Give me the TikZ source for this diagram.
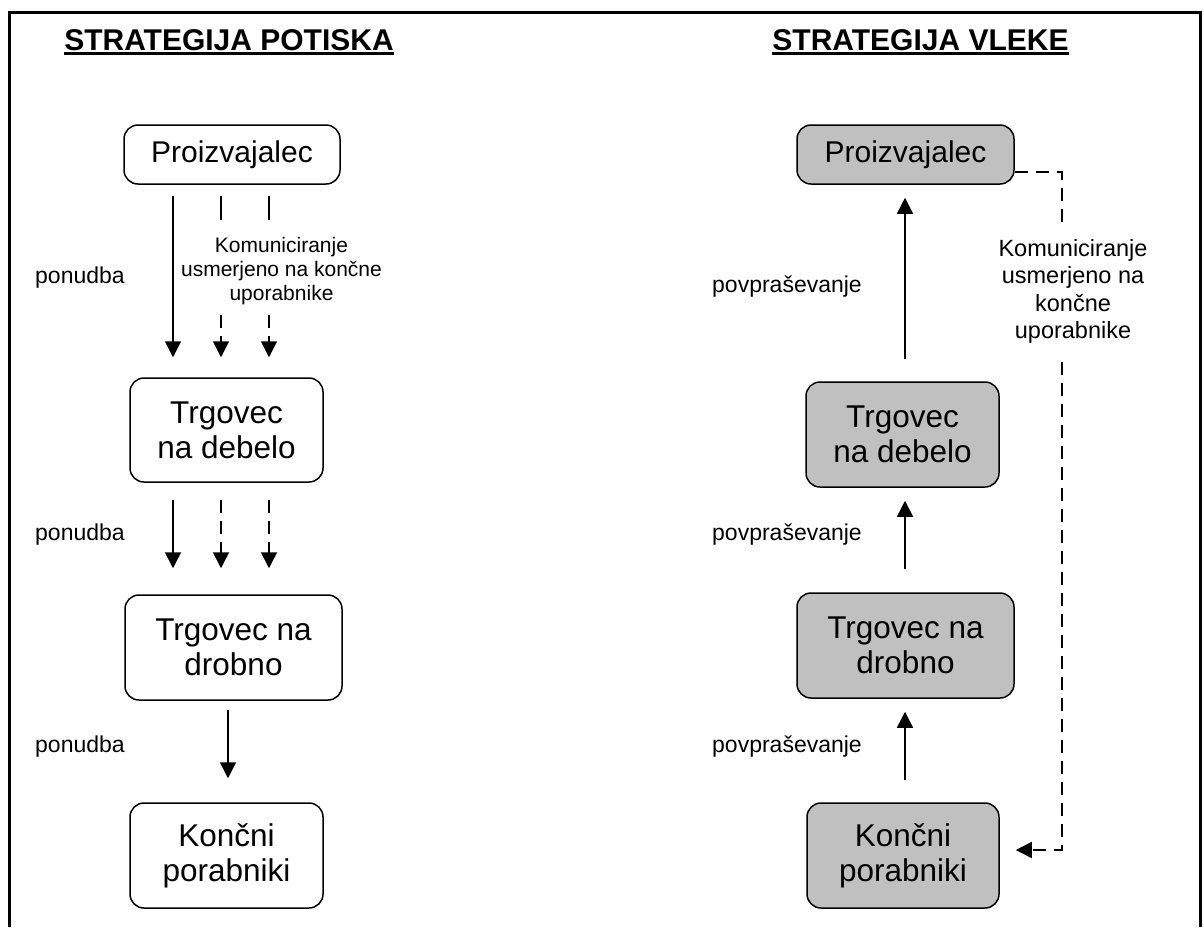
\documentclass[tikz,border=0pt]{standalone}
\usepackage{fontspec}
\setmainfont{Liberation Sans}
\usetikzlibrary{arrows.meta}
\definecolor{boxgray}{RGB}{192,192,192}
\begin{document}
\begin{tikzpicture}[x=1pt,y=-1pt,
  box/.style={draw, line width=1.5pt, rounded corners=14pt, align=center, inner sep=0pt, font=\fontsize{31.5}{35}\selectfont},
  gbox/.style={box, fill=boxgray},
  lbl/.style={anchor=west, inner sep=0pt, font=\fontsize{23}{27}\selectfont},
  arr/.style={line width=1.5pt, -{Triangle[width=16pt,length=16pt]}},
  dsh/.style={line width=1.5pt, dash pattern=on 13pt off 8pt},
  ttl/.style={inner sep=0pt, anchor=base, font=\bfseries\fontsize{30}{36}\selectfont}]

\useasboundingbox (0,0) rectangle (1204,927);
\draw[line width=3pt] (9,927) -- (9,12) -- (1200,12) -- (1200,927);

% titles
\node[ttl] (t1) at (229,50) {STRATEGIJA POTISKA};
\draw[line width=3pt] ([yshift=-3.5pt]t1.base west) -- ([yshift=-3.5pt]t1.base east);
\node[ttl] (t2) at (920.5,50) {STRATEGIJA VLEKE};
\draw[line width=3pt] ([yshift=-3.5pt]t2.base west) -- ([yshift=-3.5pt]t2.base east);

% left column boxes
\node[box, minimum width=216pt, minimum height=59pt, font=\fontsize{30}{35}\selectfont] (LP) at (232,154.5) {Proizvajalec};
\node[box, minimum width=193pt, minimum height=104pt] (LW) at (226.5,430) {Trgovec\\na debelo};
\node[box, minimum width=217pt, minimum height=105pt] (LR) at (233.5,647.5) {Trgovec na\\drobno};
\node[box, minimum width=193pt, minimum height=105pt] (LK) at (226.5,855.5) {Kon\v{c}ni\\porabniki};

% right column boxes
\node[gbox, minimum width=217pt, minimum height=59pt, font=\fontsize{30}{35}\selectfont] (RP) at (905.5,154.5) {Proizvajalec};
\node[gbox, minimum width=193pt, minimum height=105pt] (RW) at (902.5,434.5) {Trgovec\\na debelo};
\node[gbox, minimum width=217pt, minimum height=105pt] (RR) at (905.5,645.5) {Trgovec na\\drobno};
\node[gbox, minimum width=192pt, minimum height=105pt] (RK) at (903,855.5) {Kon\v{c}ni\\porabniki};

% column coordinates
\coordinate (cA) at (173,0);
\coordinate (cB) at (221,0);
\coordinate (cC) at (269,0);
\coordinate (cD) at (228,0);
\coordinate (cR) at (905,0);
\coordinate (cE) at (1062,0);

% left communication text
\node[align=center, inner sep=0pt, font=\fontsize{21}{24}\selectfont] (LT) at (281.5,271)
  {Komuniciranje\\usmerjeno na kon\v{c}ne\\uporabnike};

% left labels
\node[lbl] (lp1) at (35,278) {ponudba};
\node[lbl] (lp2) at (35,535) {ponudba};
\node[lbl] (lp3) at (35,747) {ponudba};

% left arrows group 1
\draw[arr, shorten <=11pt, shorten >=20pt] (LP.south -| cA) -- (LW.north -| cA);
\draw[dsh, dash pattern=on 24pt off 8pt, shorten <=11pt, shorten >=17pt] (LP.south -| cB) -- (LT.north -| cB);
\draw[dsh, dash pattern=on 24pt off 8pt, shorten <=11pt, shorten >=17pt] (LP.south -| cC) -- (LT.north -| cC);
\draw[dsh, arr, shorten <=10pt, shorten >=20pt] (LT.south -| cB) -- (LW.north -| cB);
\draw[dsh, arr, shorten <=10pt, shorten >=20pt] (LT.south -| cC) -- (LW.north -| cC);

% left arrows group 2
\draw[arr, shorten <=17pt, shorten >=26pt] (LW.south -| cA) -- (LR.north -| cA);
\draw[dsh, arr, shorten <=17pt, shorten >=26pt] (LW.south -| cB) -- (LR.north -| cB);
\draw[dsh, arr, shorten <=17pt, shorten >=26pt] (LW.south -| cC) -- (LR.north -| cC);

% left arrow 3
\draw[arr, shorten <=9pt, shorten >=24pt] (LR.south -| cD) -- (LK.north -| cD);

% right labels
\node[lbl] (rp1) at (712,287) {povpra\v{s}evanje};
\node[lbl] (rp2) at (712,535) {povpra\v{s}evanje};
\node[lbl] (rp3) at (712,747) {povpra\v{s}evanje};

% right arrows
\draw[arr, shorten <=22pt, shorten >=13pt] (RW.north -| cR) -- (RP.south -| cR);
\draw[arr, shorten <=23pt, shorten >=13pt] (RR.north -| cR) -- (RW.south -| cR);
\draw[arr, shorten <=22pt, shorten >=13pt] (RK.north -| cR) -- (RR.south -| cR);

% right communication text
\node[align=center, inner sep=0pt, font=\fontsize{23.5}{27.5}\selectfont] (RT) at (1073,291.5)
  {Komuniciranje\\usmerjeno na\\kon\v{c}ne\\uporabnike};

% right dashed connector
\coordinate (d0) at ([yshift=-17.5pt]RP.east);
\coordinate (d1) at ([xshift=16pt,yshift=5.5pt]RK.east);
\draw[dsh, shorten >=17pt] (d0) -- (d0 -| cE) -- (RT.north -| cE);
\draw[dsh, arr, shorten <=18pt] (RT.south -| cE) -- (d1 -| cE) -- (d1);

\end{tikzpicture}
\end{document}
